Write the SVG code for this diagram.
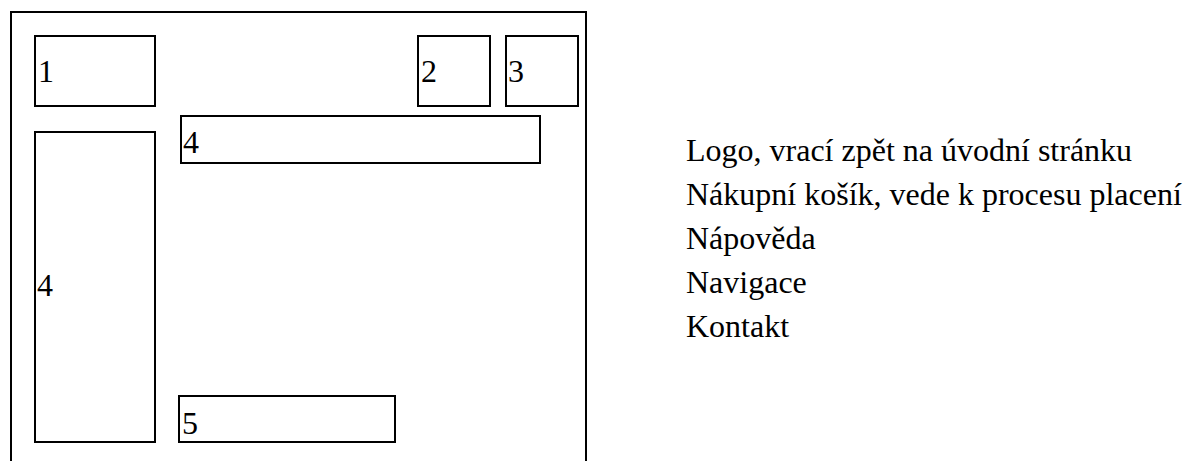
<svg xmlns="http://www.w3.org/2000/svg" width="1186" height="461" viewBox="0 0 1186 461">
  <style>
    .box { fill: none; stroke: #000; stroke-width: 2; }
    .lbl { font-family: "Liberation Serif", "Times New Roman", serif; font-size: 32px; fill: #000; }
  </style>
  <rect width="1186" height="461" fill="#fff"/>
  <!-- page frame -->
  <g id="frame">
    <rect class="box" x="11" y="12" width="575" height="470"/>
  </g>
  <g id="node-logo">
    <rect class="box" x="35" y="36" width="120" height="70"/>
    <text class="lbl" x="38" y="82">1</text>
  </g>
  <g id="node-cart">
    <rect class="box" x="418" y="36" width="72" height="70"/>
    <text class="lbl" x="421" y="82">2</text>
  </g>
  <g id="node-help">
    <rect class="box" x="506" y="36" width="72" height="70"/>
    <text class="lbl" x="508" y="82">3</text>
  </g>
  <g id="node-nav-top">
    <rect class="box" x="181" y="116" width="359" height="47"/>
    <text class="lbl" x="183" y="153">4</text>
  </g>
  <g id="node-nav-side">
    <rect class="box" x="35" y="132" width="120" height="310"/>
    <text class="lbl" x="37" y="296">4</text>
  </g>
  <g id="node-contact">
    <rect class="box" x="179" y="396" width="216" height="46"/>
    <text class="lbl" x="182" y="434">5</text>
  </g>
  <g id="connectors"/>
  <!-- legend -->
  <g id="legend">
    <text class="lbl" x="686" y="161">Logo, vrací zpět na úvodní stránku</text>
    <text class="lbl" x="686" y="205">Nákupní košík, vede k procesu placení</text>
    <text class="lbl" x="686" y="249">Nápověda</text>
    <text class="lbl" x="686" y="293">Navigace</text>
    <text class="lbl" x="686" y="337">Kontakt</text>
  </g>
</svg>
